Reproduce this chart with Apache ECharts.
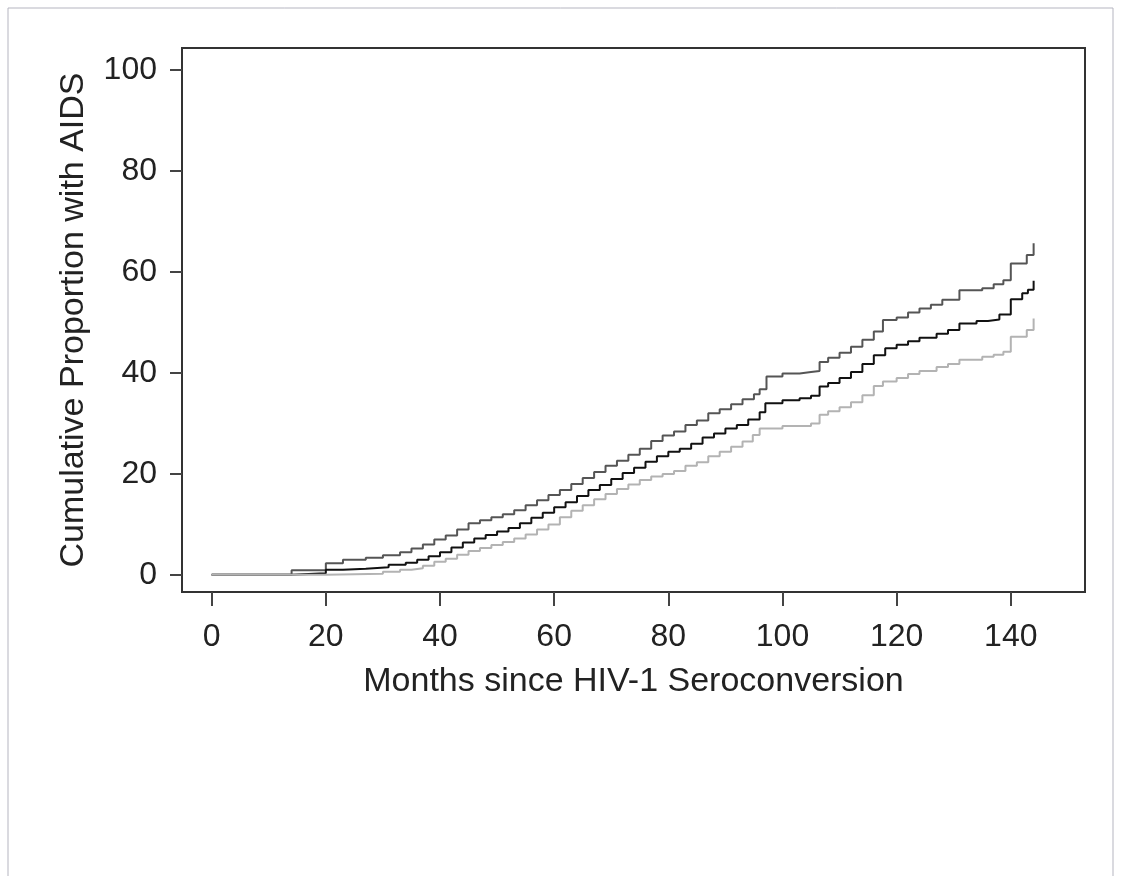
<!DOCTYPE html>
<html>
<head>
<meta charset="utf-8">
<script src="https://cdn.jsdelivr.net/npm/echarts@6/dist/echarts.min.js"></script>
<style>
  html, body { margin: 0; padding: 0; background: #fff; }
  #chart { width: 1121px; height: 876px; }
</style>
</head>
<body>
<div id="chart"></div>
<script>
// tick labels
var xTicks = [0, 20, 40, 60, 80, 100, 120, 140];
var yTicks = [0, 20, 40, 60, 80, 100];

// [months, cumulative %]
var upperCI = [[0,0],[14,0.9],[20,2.3],[23,3.0],[27,3.4],[30,3.9],[33,4.5],[35,5.2],[37,6.0],[39,7.0],[41,7.8],[43,9.0],
  [45,10.2],[47,10.8],[49,11.4],[51,12.0],[53,12.8],[55,13.8],[57,14.8],[59,15.8],[61,16.8],[63,18.0],[65,19.2],[67,20.4],
  [69,21.6],[71,22.6],[73,23.8],[75,25.0],[77,26.5],[79,27.6],[81,28.4],[83,29.7],[85,30.6],[87,32.0],[89,32.8],[91,33.8],
  [93,34.8],[95,35.8],[96,36.8],[97.2,39.3],[100,39.9],[103,40.2],[105,40.4],[106.5,42.2],[108,43.0],[110,44.0],[112,45.2],
  [114,46.6],[116,48.2],[117.6,50.5],[120,51.0],[122,52.0],[124,52.8],[126,53.5],[128,54.5],[131,56.4],[135,56.8],[137,57.6],
  [138.7,58.4],[140,61.7],[142.8,63.4],[144,65.7]];

var estimate = [[0,0],[14,0.3],[20,1.0],[23,1.2],[27,1.5],[31,2.0],[34,2.4],[36,3.0],[38,3.7],[40,4.5],[42,5.4],[44,6.4],
  [46,7.2],[48,7.9],[50,8.6],[52,9.3],[54,10.2],[56,11.3],[58,12.3],[60,13.4],[62,14.4],[64,15.6],[66,16.8],[68,17.8],
  [70,19.0],[72,20.2],[74,21.2],[76,22.4],[78,23.5],[80,24.4],[82,25.0],[84,26.0],[86,27.2],[88,28.0],[90,29.0],[92,29.7],
  [94,30.8],[96,32.2],[97,34.0],[100,34.6],[103,35.0],[105,35.5],[106.5,37.3],[108,38.0],[110,39.0],[112,40.2],[114,41.8],
  [116,43.5],[118,44.9],[120,45.6],[122,46.3],[124,47.0],[127,47.8],[129,48.5],[131,49.8],[134,50.3],[136,50.6],[138,51.6],
  [140,54.6],[142,55.8],[143,56.5],[144,58.3]];

var lowerCI = [[0,0],[20,0.1],[25,0.2],[30,0.6],[33,1.0],[35,1.3],[37,1.8],[39,2.6],[41,3.2],[43,4.0],[45,4.7],[47,5.3],
  [49,5.9],[51,6.5],[53,7.2],[55,8.0],[57,9.0],[59,10.0],[61,11.4],[63,12.7],[65,13.8],[67,15.0],[69,16.0],[71,17.0],
  [73,17.9],[75,18.8],[77,19.5],[79,20.0],[81,20.6],[83,21.6],[85,22.3],[87,23.5],[89,24.4],[91,25.4],[93,26.4],[94.8,27.7],
  [96,29.0],[100,29.5],[105,30.0],[106.5,31.7],[108,32.4],[110,33.2],[112,34.2],[114,35.6],[116,37.4],[117.6,38.3],[120,39.0],
  [122,39.8],[124,40.4],[127,41.2],[129,41.8],[131,42.6],[135,43.2],[137,43.6],[138.7,44.2],[140,47.2],[142.8,48.5],[144,50.8]];

var chart = echarts.init(document.getElementById('chart'));
var font = '"Liberation Sans", Arial, Helvetica, sans-serif';

function stepLine(name, data, color) {
  return {
    name: name,
    type: 'line',
    step: 'end',
    data: data,
    symbol: 'none',
    animation: false,
    lineStyle: { color: color, width: 2 }
  };
}

chart.setOption({
  animation: false,
  grid: {
    left: 182, top: 48, right: 36, bottom: 284,
    show: true,
    borderColor: '#333',
    borderWidth: 2
  },
  graphic: [{
    type: 'polyline',
    shape: { points: [[8, 876], [8, 8], [1113, 8], [1113, 876]] },
    style: { stroke: '#b5b5c0', lineWidth: 1, fill: null },
    silent: true
  }],
  xAxis: {
    type: 'value',
    min: -5.2,
    max: 153,
    name: 'Months since HIV-1 Seroconversion',
    nameLocation: 'middle',
    nameGap: 73,
    nameTextStyle: { fontFamily: font, fontSize: 34, color: '#222' },
    axisLine: { show: true, onZero: false, lineStyle: { color: '#333', width: 2 } },
    axisTick: { show: true, customValues: xTicks, length: 14, lineStyle: { color: '#444', width: 2 } },
    axisLabel: { customValues: xTicks, margin: 29, fontFamily: font, fontSize: 32, color: '#222' },
    splitLine: { show: false }
  },
  yAxis: {
    type: 'value',
    min: -3.4,
    max: 104.4,
    name: 'Cumulative Proportion with AIDS',
    nameLocation: 'middle',
    nameGap: 91,
    nameTextStyle: { fontFamily: font, fontSize: 34, color: '#222' },
    axisLine: { show: true, onZero: false, lineStyle: { color: '#333', width: 2 } },
    axisTick: { show: true, customValues: yTicks, length: 12, lineStyle: { color: '#444', width: 2 } },
    axisLabel: { customValues: yTicks, margin: 25, fontFamily: font, fontSize: 32, color: '#222' },
    splitLine: { show: false }
  },
  series: [
    stepLine('upper', upperCI, '#555555'),
    stepLine('estimate', estimate, '#111111'),
    stepLine('lower', lowerCI, '#b3b3b3')
  ]
});
</script>
</body>
</html>
